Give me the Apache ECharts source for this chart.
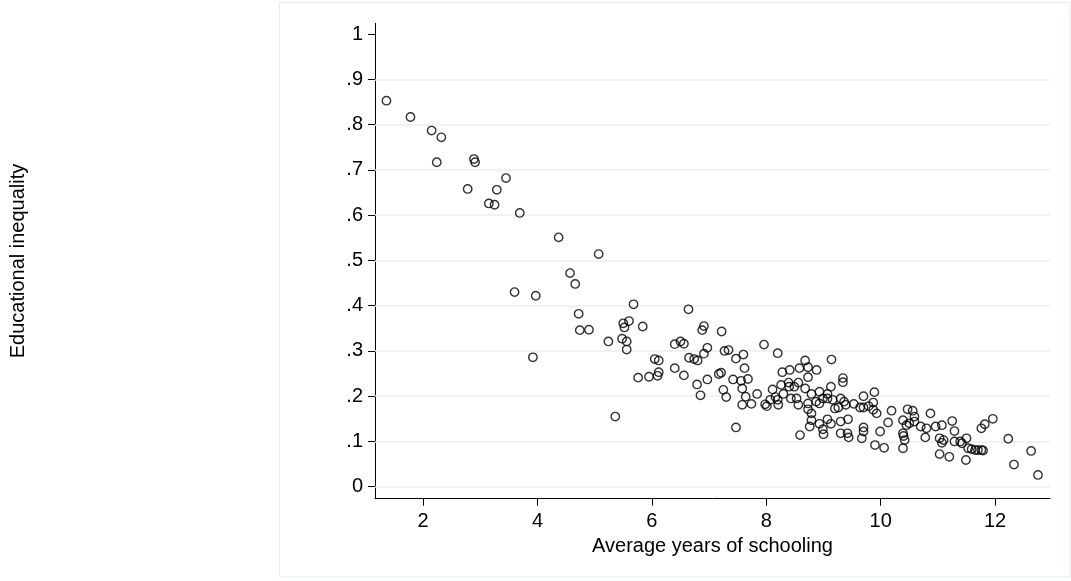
<!DOCTYPE html>
<html>
<head>
<meta charset="utf-8">
<script src="https://cdn.jsdelivr.net/npm/echarts@6/dist/echarts.min.js"></script>
<style>
html,body{margin:0;padding:0;background:#fff;}
#chart{width:1071px;height:581px;}
</style>
</head>
<body>
<div id="chart"></div>
<script>
// Average years of schooling (x) and educational inequality (y)
const schooling = [
1.36,1.78,2.15,2.32,2.24,2.89,2.91,2.78,3.29,3.45,3.15,3.25,3.69,4.37,5.07,4.57,4.66,3.60,3.97,3.92,
4.72,4.74,4.90,5.24,5.36,5.68,5.50,5.52,5.60,5.48,5.56,5.56,5.84,5.76,5.95,6.05,6.12,6.12,6.10,
6.40,6.64,6.40,6.50,6.56,6.56,6.65,6.74,6.80,6.91,6.88,6.91,6.97,6.79,6.85,6.97,7.22,7.27,7.34,7.17,
7.21,7.25,7.30,7.42,7.47,7.60,7.62,7.56,7.58,7.68,7.64,7.58,7.74,7.47,7.84,7.96,7.98,8.01,
8.20,8.68,9.14,8.28,8.41,8.58,8.73,8.88,8.73,9.34,9.34,8.11,8.26,8.39,8.40,8.56,8.49,8.68,8.79,8.93,
9.07,9.13,9.70,9.89,8.07,8.16,8.20,8.21,8.30,8.43,8.53,8.56,8.73,8.87,8.93,8.99,9.07,9.16,9.30,9.36,
9.39,9.53,9.64,9.70,9.79,9.87,9.87,9.93,8.73,8.79,9.20,9.26,10.19,10.47,10.56,10.59,8.79,8.93,9.07,9.13,
8.99,9.00,9.30,9.43,8.76,8.59,9.30,9.42,9.44,9.70,9.70,9.67,9.99,10.13,10.39,10.45,10.50,10.39,10.42,10.39,
9.90,10.06,10.70,
10.59,10.40,10.87,10.80,10.78,10.96,11.07,11.03,11.10,11.07,11.25,11.29,11.29,11.03,11.20,11.39,11.42,11.50,
11.53,11.59,11.65,11.70,11.76,11.79,11.49,11.76,11.82,11.96,12.23,12.33,12.63,12.75
];
const inequality = [
.853,.817,.787,.772,.717,.724,.717,.658,.656,.682,.626,.623,.605,.551,.514,.472,.448,.430,.422,.286,
.382,.346,.347,.321,.155,.403,.361,.352,.366,.327,.321,.303,.354,.241,.243,.282,.279,.253,.245,
.262,.392,.315,.321,.316,.246,.285,.282,.279,.355,.346,.294,.307,.226,.202,.237,.343,.300,.302,.249,
.252,.214,.198,.237,.283,.292,.262,.234,.217,.238,.199,.181,.183,.131,.205,.314,.182,.178,
.295,.279,.281,.253,.258,.262,.264,.258,.242,.240,.231,.215,.225,.230,.221,.230,.221,.217,.205,.210,
.205,.221,.200,.209,.192,.198,.192,.181,.205,.195,.195,.181,.184,.188,.184,.195,.195,.192,.195,.188,
.181,.183,.175,.175,.178,.186,.170,.162,.171,.162,.173,.175,.168,.171,.168,.155,.147,.139,.149,.139,
.127,.116,.144,.149,.133,.114,.118,.118,.109,.131,.122,.107,.122,.142,.147,.136,.140,.118,.103,.085,
.092,.086,.133,
.144,.112,.162,.129,.109,.133,.136,.107,.103,.097,.145,.123,.100,.072,.066,.100,.096,.107,
.085,.083,.081,.081,.081,.080,.059,.129,.138,.150,.106,.049,.079,.026
];
const xTicks = [2,4,6,8,10,12];
const yTicks = [0,.1,.2,.3,.4,.5,.6,.7,.8,.9,1];
const yTickLabels = ['0','.1','.2','.3','.4','.5','.6','.7','.8','.9','1'];
const yGridValues = [0,.1,.2,.3,.4,.5,.6,.7,.8,.9];
const xTitle = 'Average years of schooling';
const yTitle = 'Educational inequality';

const points = schooling.map((v,i)=>[v, inequality[i]]);
const FONT = '"Liberation Sans", Arial, sans-serif';

const chart = echarts.init(document.getElementById('chart'), null, {renderer:'canvas'});
chart.setOption({
  animation:false,
  backgroundColor:'#ffffff',
  graphic:[{
    type:'rect', silent:true, z:-10,
    shape:{x:279.5, y:2.5, width:790.5, height:574.5},
    style:{fill:'#ffffff', stroke:'#e3ecee', lineWidth:1}
  }],
  grid:{left:361.7, right:21, top:23.3, bottom:82.3, containLabel:false},
  xAxis:{
    type:'value', min:1.16, max:12.96,
    name:xTitle, nameLocation:'middle', nameGap:33,
    nameTextStyle:{color:'#000', fontSize:20, fontFamily:FONT},
    axisLine:{show:true, onZero:false, lineStyle:{color:'#000', width:1}},
    axisTick:{show:true, length:7, customValues:xTicks, lineStyle:{color:'#000', width:1}},
    axisLabel:{show:true, margin:13, customValues:xTicks, color:'#000', fontSize:20, fontFamily:FONT},
    splitLine:{show:false}
  },
  yAxis:{
    type:'value', min:-0.0265, max:1.024,
    name:yTitle, nameLocation:'middle', nameGap:347, nameRotate:90,
    nameTextStyle:{color:'#000', fontSize:20, fontFamily:FONT},
    axisLine:{show:true, onZero:false, lineStyle:{color:'#000', width:1}},
    axisTick:{show:true, length:7, customValues:yTicks, lineStyle:{color:'#000', width:1}},
    axisLabel:{show:true, margin:12, customValues:yTicks, color:'#000', fontSize:20, fontFamily:FONT,
      formatter:function(v){ const i = yTicks.findIndex(t=>Math.abs(t-v)<1e-9); return i>=0 ? yTickLabels[i] : ''; }},
    splitLine:{show:false}
  },
  series:[{
    type:'scatter',
    data:points,
    symbol:'circle',
    symbolSize:8.4,
    itemStyle:{color:'rgba(0,0,0,0)', borderColor:'#000', borderWidth:1.4},
    emphasis:{disabled:true},
    silent:true,
    z:3,
    markLine:{
      silent:true, symbol:['none','none'], label:{show:false},
      lineStyle:{color:'#e6eef2', width:1.5, type:'solid'},
      data: yGridValues.map(v=>({yAxis:v})),
      z:1
    }
  }]
});
</script>
</body>
</html>
